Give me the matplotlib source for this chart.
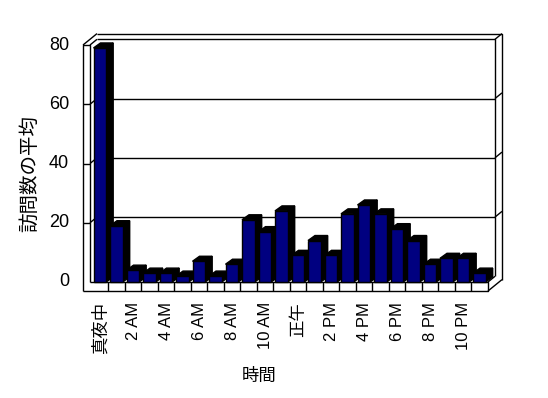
import numpy as np
import matplotlib
matplotlib.use("Agg")
import matplotlib.pyplot as plt
from matplotlib.patches import Polygon, Rectangle

plt.rcParams['font.family'] = ['Liberation Sans', 'Noto Sans CJK JP', 'DejaVu Sans']

# data
hours = list(range(24))
visits = [79, 19, 4, 3, 3, 2, 7, 2, 6, 21, 17, 24, 9, 14, 9, 23, 26, 23, 18, 14, 6, 8, 8, 3]
tick_labels = ['真夜中', '2 AM', '4 AM', '6 AM', '8 AM', '10 AM', '正午',
               '2 PM', '4 PM', '6 PM', '8 PM', '10 PM']
yticks = [0, 20, 40, 60, 80]
xlabel = '時間'
ylabel = '訪問数の平均'

# layout (pixel scale -> data units)
W, H = 548, 398
px_cat = 16.5          # px per category
px_val = 2.9625        # px per value unit
x0_px, y0_px = 91.8, 282.0
ymax = 80

def cx(px):
    return (px - x0_px) / px_cat

def vy(py):
    return (y0_px - py) / px_val

fig = plt.figure(figsize=(W / 100, H / 100), dpi=100)
ax = fig.add_axes([0, 0, 1, 1])
ax.set_xlim(cx(0), cx(W))
ax.set_ylim(vy(H), vy(0))
ax.axis('off')

n = len(visits)
wdx, wdy = 7 / px_cat, 5.7 / px_val      # wall depth step
bdx, bdy = 7 / px_cat, 5.0 / px_val      # bar depth
lw_l, lw_r = cx(83), cx(90)              # left wall front face
right = cx(488)                          # floor right end
fthk = 9 / px_val                        # floor thickness

lk = dict(color='black', lw=1, zorder=1, solid_capstyle='butt')

def line(xs, ys):
    ax.plot(xs, ys, **lk)

# back wall (outer and inner faces)
line([lw_l + 2 * wdx, right + 2 * wdx, right + 2 * wdx],
     [ymax + 2 * wdy, ymax + 2 * wdy, -fthk + 2 * wdy])
line([lw_r + wdx, right + wdx, right + wdx],
     [ymax + wdy, ymax + wdy, wdy])
line([right + wdx, right + 2 * wdx], [ymax + wdy, ymax + 2 * wdy])
for v in yticks[1:-1]:
    line([lw_r + wdx, right + wdx], [v + wdy, v + wdy])
    line([right + wdx, right + 2 * wdx], [v + wdy, v + 2 * wdy])
    line([lw_r, lw_r + wdx], [v, v + wdy])

# left wall front face
line([lw_l, lw_l, lw_r, lw_r], [-fthk, ymax, ymax, 0])
line([lw_l, lw_l + 2 * wdx], [ymax, ymax + 2 * wdy])
line([lw_r, lw_r + wdx], [ymax, ymax + wdy])
for v in yticks[1:-1]:
    line([lw_l, lw_r], [v, v])

# floor
line([lw_r, right, right, lw_l], [0, 0, -fthk, -fthk])
line([right, right + wdx], [0, wdy])
line([right, right + 2 * wdx], [-fthk, -fthk + 2 * wdy])
for i in range(1, n):
    line([i, i], [-fthk, 0])

# bars
bw = 12.7 / px_cat
off = 1.7 / px_cat
for i, v in zip(hours, visits):
    xl = i + off
    xr = xl + bw
    z = 2 + i
    side = Polygon([(xr, 0), (xr + bdx, bdy), (xr + bdx, v + bdy), (xr, v)],
                   closed=True, facecolor='black', edgecolor='black', lw=1, zorder=z)
    top = Polygon([(xl, v), (xr, v), (xr + bdx, v + bdy), (xl + bdx, v + bdy)],
                  closed=True, facecolor='black', edgecolor='black', lw=1, zorder=z)
    front = Rectangle((xl, 0), bw, v, facecolor='#000080', edgecolor='black',
                      lw=1, zorder=z + 0.5)
    ax.add_patch(side)
    ax.add_patch(top)
    ax.add_patch(front)

# y tick labels
for v in yticks:
    ax.text(cx(69), v, str(v), ha='right', va='center', fontsize=13)

# x tick labels (every other hour)
for k, lab in enumerate(tick_labels):
    fs = 12.5 if not lab.isascii() else 12
    ax.text(hours[2 * k] + 0.5, vy(302), lab, rotation=90, ha='center', va='top',
            fontsize=fs)

ax.text(cx(259), vy(376), xlabel, ha='center', va='center', fontsize=12.5)
ax.text(cx(30), vy(173), ylabel, ha='center', va='center', rotation=90, fontsize=14)

fig.savefig('out.png', dpi=100)
